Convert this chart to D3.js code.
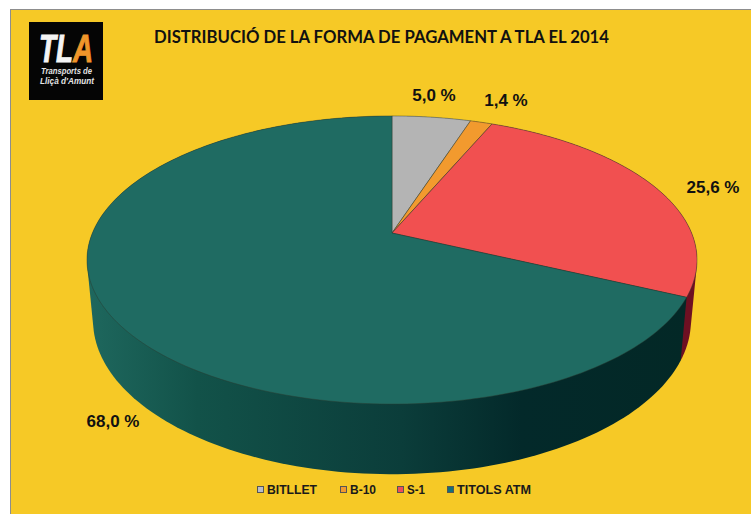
<!DOCTYPE html>
<html><head><meta charset="utf-8">
<script src="https://cdn.jsdelivr.net/npm/d3@7/dist/d3.min.js"></script>
<style>html,body{margin:0;padding:0;background:#fff}svg{display:block}</style>
</head><body><svg id="c" width="751" height="514"></svg>
<script>
const categories = ["BITLLET","B-10","S-1","TITOLS ATM"];
const values = [5.0,1.4,25.6,68.0];
const valueLabels = ["5,0 %","1,4 %","25,6 %","68,0 %"];
const topColors = ["#b4b4b4","#f29a2e","#f15050","#1f6b62"];
const legendColors = ["#b9bcc8","#f29a2e","#ee4d5a","#14707a"];
const titleText = "DISTRIBUCIÓ DE LA FORMA DE PAGAMENT A TLA EL 2014";

const svg = d3.select("#c");
svg.append("rect").attr("x",10.5).attr("y",9.5).attr("width",741).attr("height",505)
  .attr("fill","#f6c926").attr("stroke","#8d8d8d").attr("stroke-width",1);

// Perspective projection of the unit disc
const cx=392, apexY=233, A=299.6, B=139, k=0.1875;
const project=(a,sx,m,cy)=>{const x=Math.sin(a),y=Math.cos(a),s=1/(1+k*y);
  return [cx+sx*A*x*s, cy-m*B*y*s];};
const topP=a=>project(a,1,1,apexY);
const botP=a=>project(a,0.98,1.065,292);

const arcs=d3.pie().sort(null).value(d=>d)(values);
const defs=svg.append("defs");
const grad=defs.append("linearGradient").attr("id","wallTeal").attr("gradientUnits","userSpaceOnUse")
  .attr("x1",90).attr("x2",690).attr("y1",0).attr("y2",0);
[[0,"#1e675d"],[.18,"#125249"],[.52,"#0b3d3a"],[.72,"#03292a"],[1,"#032826"]]
  .forEach(([o,c])=>grad.append("stop").attr("offset",o).attr("stop-color",c));
const wallFill=["#777777","#8a5516","#6e1022","url(#wallTeal)"];
const line=d3.line();
const samples=(a0,a1)=>d3.range(0,181).map(i=>a0+(a1-a0)*i/180);

// Walls: convex hull of each slice's upper and lower rim
const g=svg.append("g");
arcs.forEach((d,i)=>{
  const t=samples(d.startAngle,d.endAngle);
  const hull=d3.polygonHull(t.map(topP).concat(t.map(botP)));
  g.append("path").attr("d",line(hull)+"Z").attr("fill",wallFill[i]);
});
// Top surface
arcs.forEach((d,i)=>{
  const t=samples(d.startAngle,d.endAngle);
  const pts=[[cx,apexY]].concat(t.map(topP));
  g.append("path").attr("d",line(pts)+"Z").attr("fill",topColors[i])
    .attr("stroke","#2b3a30").attr("stroke-width",0.6).attr("stroke-opacity",.75).attr("stroke-linejoin","round");
});

// Labels
const labelPos=[[434,101],[506,106],[713,193],[113,427]];
const lab="'Liberation Sans',Arial,sans-serif";
valueLabels.forEach((t,i)=>svg.append("text").attr("x",labelPos[i][0]).attr("y",labelPos[i][1])
  .attr("text-anchor","middle").attr("font-family",lab).attr("font-weight",700).attr("font-size",17)
  .attr("fill","#111").text(t));

// Title
svg.append("text").attr("x",154).attr("y",43).attr("font-family","Lato,'Open Sans',sans-serif")
  .attr("font-weight",700).attr("font-size",16.5).attr("fill","#111")
  .attr("textLength",455).attr("lengthAdjust","spacingAndGlyphs").text(titleText);

// Legend
const legX=[257.5,340.5,397.5,447.5], legW=[50,26,18,74];
categories.forEach((c,i)=>{
  svg.append("rect").attr("x",legX[i]).attr("y",486.5).attr("width",6).attr("height",6)
    .attr("fill",legendColors[i]).attr("stroke","#555").attr("stroke-width",1);
  svg.append("text").attr("x",legX[i]+9.5).attr("y",494).attr("font-family",lab)
    .attr("font-weight",700).attr("font-size",12).attr("fill","#1a1a1a")
    .attr("textLength",legW[i]).attr("lengthAdjust","spacingAndGlyphs").text(c);
});

// Logo
const logo=svg.append("g");
logo.append("rect").attr("x",29).attr("y",22).attr("width",74).attr("height",78).attr("fill","#050505");
const tla=logo.append("text").attr("x",39).attr("y",62).attr("font-family",lab)
  .attr("font-weight",700).attr("font-style","italic").attr("font-size",38)
  .attr("textLength",54).attr("lengthAdjust","spacingAndGlyphs");
tla.append("tspan").attr("fill","#f4f4f4").attr("stroke","#f4f4f4").attr("stroke-width",1).text("TL");
tla.append("tspan").attr("fill","#f0962a").attr("stroke","#f0962a").attr("stroke-width",1).text("A");
[["Transports de",41,73.5,51],["Lliçà d'Amunt",40,84,54]].forEach(([t,x,y,w])=>
  logo.append("text").attr("x",x).attr("y",y).attr("font-family",lab).attr("font-weight",700)
    .attr("font-style","italic").attr("font-size",9).attr("fill","#e4e4e4")
    .attr("textLength",w).attr("lengthAdjust","spacingAndGlyphs").text(t));
</script></body></html>
